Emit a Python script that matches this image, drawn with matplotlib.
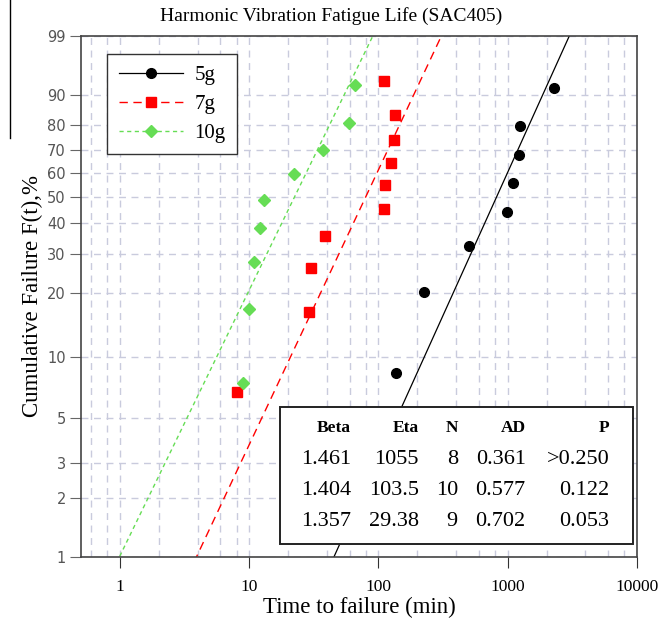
import matplotlib
matplotlib.use('Agg')

import matplotlib.pyplot as plt
import matplotlib.ticker as ticker
from matplotlib.lines import Line2D
import numpy as np

plt.rcParams['font.family'] = ['Liberation Serif', 'DejaVu Serif']

# data (time in min, cumulative failure in %)
t_5g = [138, 227, 504, 982, 1104, 1228, 1240, 2275]
F_5g = [8.33, 20.24, 32.14, 44.05, 55.95, 67.86, 79.76, 91.67]

t_7g = [8.0, 28.9, 30.2, 38.5, 111, 113, 126, 133, 135, 110]
F_7g = [6.73, 16.35, 25.96, 35.58, 45.19, 54.81, 64.42, 74.04, 83.65, 93.27]

t_10g = [8.9, 10.0, 10.9, 12.1, 13.1, 22.1, 37.2, 59.7, 65.6]
F_10g = [7.45, 17.02, 27.66, 38.30, 48.94, 59.57, 70.21, 80.85, 92.55]

# fitted weibull parameters from the table
labels = ['5g', '7g', '10g']
beta = [1.461, 1.404, 1.357]
eta = [1055, 103.5, 29.38]
N = [8, 10, 9]
AD = [0.361, 0.577, 0.702]
P = ['>0.250', '0.122', '0.053']

yticks = [1, 2, 3, 5, 10, 20, 30, 40, 50, 60, 70, 80, 90, 99]
xticks = [1, 10, 100, 1000, 10000]


def fwd(p):
    p = np.clip(np.asarray(p, dtype=float), 1e-6, 99.99999)
    return np.log(-np.log(1 - p / 100.0))


def inv(y):
    return 100.0 * (1 - np.exp(-np.exp(y)))


fig = plt.figure(figsize=(6.62, 6.24), dpi=100)
ax = fig.add_axes([0.1224, 0.1074, 0.8396, 0.8349])
ax.set_xscale('log')
ax.set_yscale('function', functions=(fwd, inv))
ax.set_xlim(0.5, 10000)
ax.set_ylim(1, 99)

# fit lines
tt = np.logspace(np.log10(0.5), 4, 500)
styles = [dict(color='black', ls='-', lw=0.9),
          dict(color='red', ls=(0, (6, 4)), lw=1.0),
          dict(color='#66dd55', ls=(0, (3, 2.5)), lw=1.0)]
for b, e, st in zip(beta, eta, styles):
    ax.plot(tt, 100 * (1 - np.exp(-(tt / e) ** b)), zorder=2, **st)

ax.plot(t_5g, F_5g, 'o', color='black', ms=7, zorder=3)
ax.plot(t_7g, F_7g, 's', color='red', ms=7, zorder=3)
ax.plot(t_10g, F_10g, 'D', color='#66dd55', ms=6.5, zorder=3)

# legend handles
hs = [Line2D([], [], marker='o', color='black', ms=7, ls='-', lw=0.9),
      Line2D([], [], marker='s', color='red', ms=7, ls=(0, (6, 4)), lw=1.0),
      Line2D([], [], marker='D', color='#66dd55', ms=6.5, ls=(0, (3, 2.5)), lw=1.0)]
leg = ax.legend(hs, labels, loc='upper left', bbox_to_anchor=(0.047, 0.9655),
                borderaxespad=0, fontsize=15, handlelength=3.1, handletextpad=0.55,
                labelspacing=0.45, borderpad=0.55, fancybox=False, framealpha=1,
                edgecolor='#333333')
leg.get_frame().set_linewidth(1.0)

# ticks and grid
ax.yaxis.set_major_locator(ticker.FixedLocator(yticks))
ax.yaxis.set_minor_locator(ticker.NullLocator())
ax.set_yticklabels([str(v) for v in yticks], family='DejaVu Sans',
                   fontsize=10.5, color='#555555')
ax.xaxis.set_major_locator(ticker.FixedLocator(xticks))
ax.xaxis.set_minor_locator(ticker.LogLocator(base=10, subs=[2, 4, 6, 8], numticks=20))
ax.xaxis.set_minor_formatter(ticker.NullFormatter())
ax.set_xticklabels([str(v) for v in xticks], fontsize=12.5)
ax.tick_params(axis='x', which='major', length=8, direction='out', color='#333333', pad=8)
ax.tick_params(axis='x', which='minor', length=0)
ax.tick_params(axis='y', which='major', length=8, direction='out', color='#666666', pad=3)

ax.grid(True, which='both', axis='x', color='#c9cbdd', ls=(0, (5, 4)), lw=1.0)
ax.grid(True, which='major', axis='y', color='#c9cbdd', ls=(0, (5, 4)), lw=1.0)
ax.set_axisbelow(True)
for s in ax.spines.values():
    s.set_color('#444444')
    s.set_linewidth(1.2)

ax.set_xlabel('Time to failure (min)', fontsize=16.5, labelpad=1)
ax.set_ylabel('Cumulative Failure F(t),%', fontsize=16.5, labelpad=3)
fig.text(0.5, 0.975, 'Harmonic Vibration Fatigue Life (SAC405)',
         ha='center', va='center', fontsize=14)

# table box
ax.add_patch(plt.Rectangle((0.358, 0.025), 0.635, 0.263, transform=ax.transAxes,
                           facecolor='white', edgecolor='#222222', lw=1.4, zorder=4))
colx = [0.4856, 0.608, 0.678, 0.800, 0.951]
rowy = [0.2476, 0.188, 0.1267, 0.0672]
for x, h in zip(colx, ['Beta', 'Eta', 'N', 'AD', 'P']):
    ax.text(x, rowy[0], h, transform=ax.transAxes, ha='right', va='center',
            fontsize=12.5, fontweight='bold', zorder=5)
for i in range(3):
    vals = ['%.3f' % beta[i], '%g' % eta[i], str(N[i]), '%.3f' % AD[i], P[i]]
    for x, v in zip(colx, vals):
        ax.text(x, rowy[i + 1], v, transform=ax.transAxes, ha='right', va='center',
                fontsize=16, zorder=5)

# stray line at the left edge of the original image
fig.add_artist(Line2D([10 / 662, 10 / 662], [1, 1 - 138 / 624], color='black', lw=1.0))

plt.savefig('out.png', dpi=100)
